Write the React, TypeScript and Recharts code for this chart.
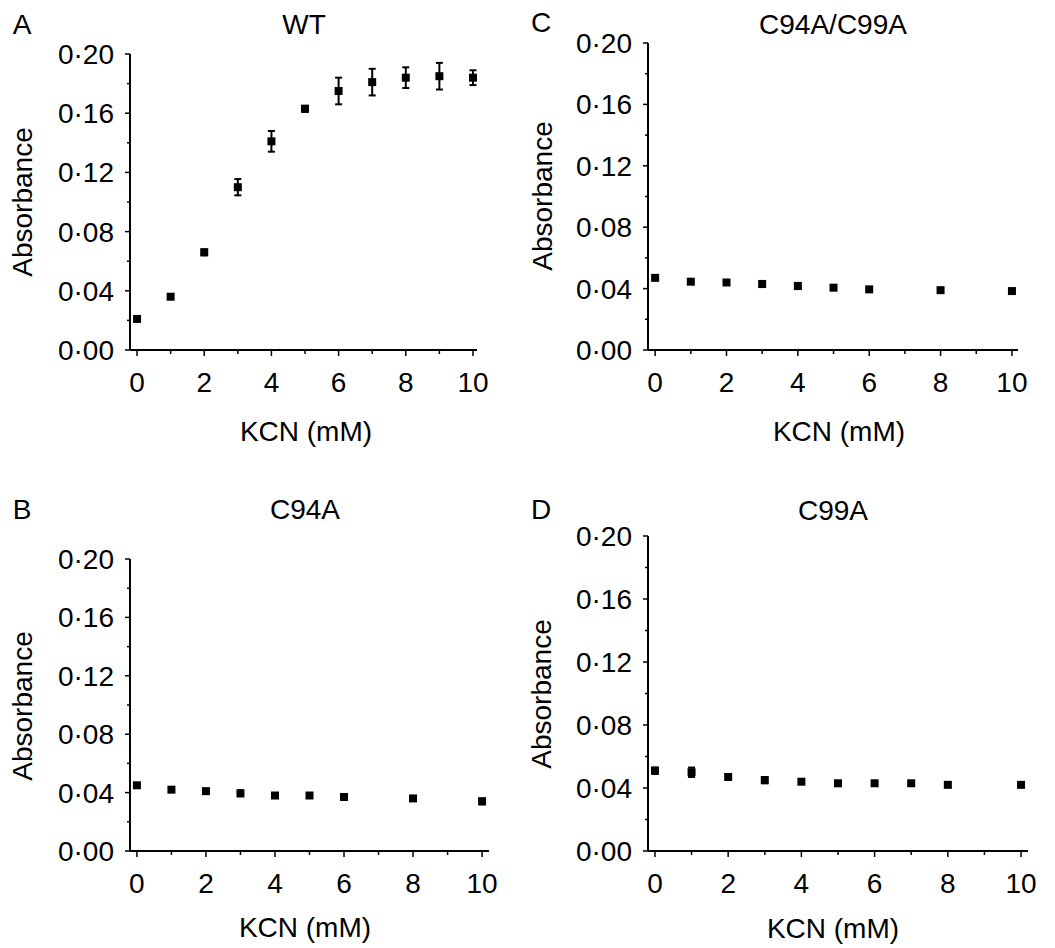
import { ScatterChart, Scatter, XAxis, YAxis, ZAxis, ErrorBar } from "recharts";

// KCN concentration (mM) and absorbance readings per mutant
const wtKcn = [0, 1, 2, 3, 4, 5, 6, 7, 8, 9, 10];
const wtAbs = [0.021, 0.036, 0.066, 0.11, 0.141, 0.163, 0.175, 0.181, 0.184, 0.185, 0.184];
const wtErr = [0, 0, 0.002, 0.0055, 0.007, 0.002, 0.009, 0.009, 0.007, 0.009, 0.005];

const c94aKcn = [0, 1, 2, 3, 4, 5, 6, 8, 10];
const c94aAbs = [0.045, 0.042, 0.041, 0.0395, 0.038, 0.038, 0.037, 0.036, 0.034];
const c94aErr = [0, 0, 0.0015, 0.002, 0, 0, 0, 0.0015, 0.002];

const doubleKcn = [0, 1, 2, 3, 4, 5, 6, 8, 10];
const doubleAbs = [0.047, 0.0445, 0.044, 0.043, 0.0417, 0.0406, 0.0395, 0.039, 0.0384];
const doubleErr = [0.001, 0.001, 0, 0.002, 0.002, 0.001, 0.001, 0, 0.001];

const c99aKcn = [0, 1, 2, 3, 4, 5, 6, 7, 8, 10];
const c99aAbs = [0.051, 0.05, 0.047, 0.045, 0.044, 0.043, 0.043, 0.043, 0.042, 0.042];
const c99aErr = [0.002, 0.003, 0, 0.002, 0, 0.001, 0.001, 0.001, 0.001, 0.001];

const yTicks = [0, 0.02, 0.04, 0.06, 0.08, 0.1, 0.12, 0.14, 0.16, 0.18, 0.2];
const xTicks = [0, 1, 2, 3, 4, 5, 6, 7, 8, 9, 10];

const FONT = '"Liberation Sans", Arial, Helvetica, sans-serif';
const FS = 28;

const toRows = (xs: number[], ys: number[], errs: number[]) =>
  xs.map((x, i) => ({ x, y: ys[i], err: errs[i] }));

const isMajorY = (v: number) => Math.round(v * 100) % 4 === 0;

const YTick = (props: any) => {
  const { x, y, payload } = props;
  const v = payload.value as number;
  const major = isMajorY(v);
  return (
    <g>
      <line x1={x - (major ? 5 : 3)} x2={x} y1={y} y2={y} stroke="#000" strokeWidth={1.5} />
      {major && (
        <text x={x - 16} y={y} dy="0.36em" textAnchor="end" fontSize={FS} fontFamily={FONT} fill="#000">
          {v.toFixed(2).replace(".", "\u00b7")}
        </text>
      )}
    </g>
  );
};

const XTick = (props: any) => {
  const { x, y, payload } = props;
  const v = payload.value as number;
  const major = v % 2 === 0;
  return (
    <g>
      <line x1={x} x2={x} y1={y} y2={y + (major ? 6 : 4)} stroke="#000" strokeWidth={1.5} />
      {major && (
        <text x={x} y={y + 42} textAnchor="middle" fontSize={FS} fontFamily={FONT} fill="#000">
          {v}
        </text>
      )}
    </g>
  );
};

interface PanelProps {
  letter: string;
  title: string;
  rows: { x: number; y: number; err: number }[];
  left: number;
  right: number;
  top: number;
  bottom: number;
  xDomain: [number, number];
  letterPos: [number, number];
  titlePos: [number, number];
  yLabelPos: [number, number];
  xLabelPos: [number, number];
}

const YW = 90;
const XH = 50;
const MT = 22;

const Panel = (p: PanelProps) => {
  const w = p.right - p.left + YW + 16;
  const h = p.bottom - p.top + MT + XH;
  const txt = (s: string, pos: [number, number], rotate = false) => (
    <div
      style={{
        position: "absolute",
        left: pos[0],
        top: pos[1],
        transform: `translate(-50%, -50%)${rotate ? " rotate(-90deg)" : ""}`,
        fontFamily: FONT,
        fontSize: FS,
        lineHeight: 1,
        whiteSpace: "nowrap",
        color: "#000",
      }}
    >
      {s}
    </div>
  );
  return (
    <>
      <div style={{ position: "absolute", left: p.left - YW, top: p.top - MT }}>
        <ScatterChart width={w} height={h} margin={{ top: MT, right: 16, bottom: 0, left: 0 }}>
          <XAxis
            type="number"
            dataKey="x"
            domain={p.xDomain}
            ticks={xTicks}
            allowDataOverflow
            height={XH}
            tickSize={0}
            tickMargin={0}
            tick={<XTick />}
            axisLine={{ stroke: "#000", strokeWidth: 2 }}
            tickLine={false}
          />
          <YAxis
            type="number"
            dataKey="y"
            domain={[0, 0.2]}
            ticks={yTicks}
            width={YW}
            tickSize={0}
            tickMargin={0}
            tick={<YTick />}
            axisLine={{ stroke: "#000", strokeWidth: 2 }}
            tickLine={false}
          />
          <ZAxis range={[90, 90]} />
          <Scatter data={p.rows} fill="#000" shape="square" isAnimationActive={false}>
            <ErrorBar dataKey="err" direction="y" width={3.5} stroke="#000" strokeWidth={2} />
          </Scatter>
        </ScatterChart>
      </div>
      {txt(p.letter, p.letterPos)}
      {txt(p.title, p.titlePos)}
      {txt("Absorbance", p.yLabelPos, true)}
      {txt("KCN (mM)", p.xLabelPos)}
    </>
  );
};

export default function App() {
  return (
    <div style={{ position: "absolute", left: 0, top: 0, width: 1055, height: 948, background: "#fff" }}>
      <Panel
        letter="A"
        title="WT"
        rows={toRows(wtKcn, wtAbs, wtErr)}
        left={130}
        right={477}
        top={54}
        bottom={350}
        xDomain={[-0.21, 10.12]}
        letterPos={[22, 25]}
        titlePos={[304, 25]}
        yLabelPos={[23, 202]}
        xLabelPos={[306, 432]}
      />
      <Panel
        letter="C"
        title="C94A/C99A"
        rows={toRows(doubleKcn, doubleAbs, doubleErr)}
        left={648}
        right={1018}
        top={43}
        bottom={350}
        xDomain={[-0.2, 10.17]}
        letterPos={[541, 23]}
        titlePos={[833, 25]}
        yLabelPos={[543, 196]}
        xLabelPos={[839, 432]}
      />
      <Panel
        letter="B"
        title="C94A"
        rows={toRows(c94aKcn, c94aAbs, c94aErr)}
        left={130}
        right={489}
        top={559}
        bottom={851}
        xDomain={[-0.2, 10.2]}
        letterPos={[22, 510]}
        titlePos={[305, 510]}
        yLabelPos={[23, 706]}
        xLabelPos={[305, 928]}
      />
      <Panel
        letter="D"
        title="C99A"
        rows={toRows(c99aKcn, c99aAbs, c99aErr)}
        left={648}
        right={1028}
        top={536}
        bottom={851}
        xDomain={[-0.19, 10.19]}
        letterPos={[541, 510]}
        titlePos={[833, 511]}
        yLabelPos={[542, 694]}
        xLabelPos={[833, 929]}
      />
    </div>
  );
}
